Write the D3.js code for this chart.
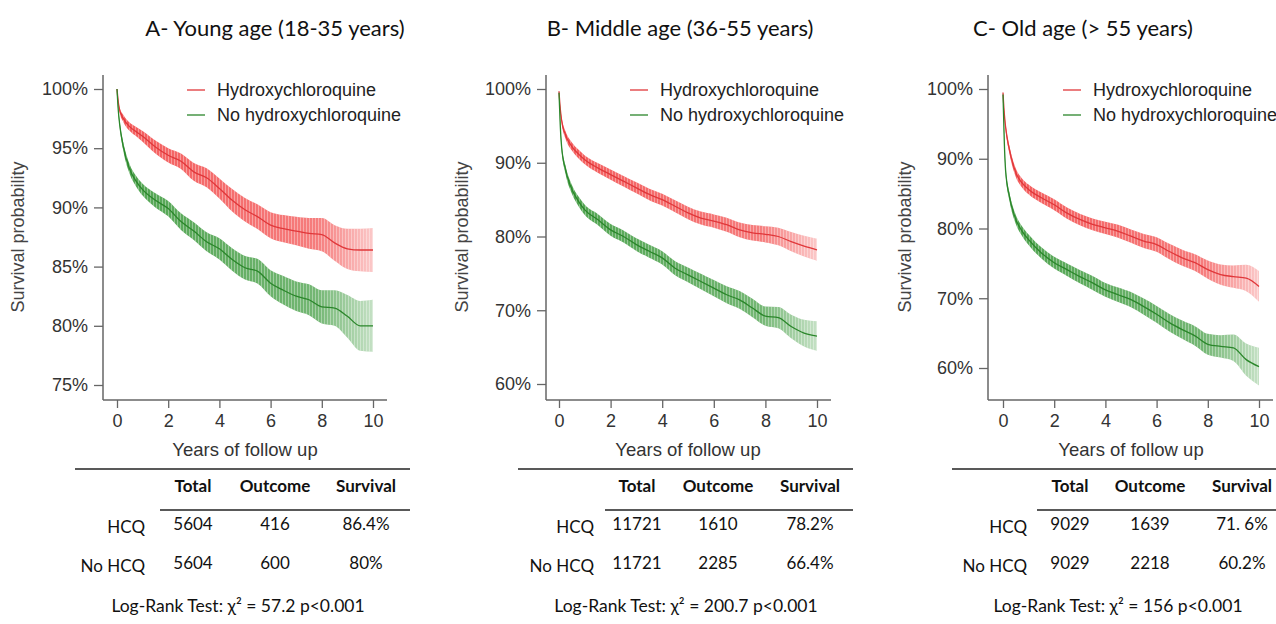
<!DOCTYPE html>
<html>
<head>
<meta charset="utf-8">
<script src="https://cdn.jsdelivr.net/npm/d3@7"></script>
<style>
  body { margin: 0; background: #fff; overflow: hidden; }
  svg { display: block; }
  .tick text { font-family: "Liberation Sans", Arial, sans-serif; }
</style>
</head>
<body>
<svg width="1276" height="624"></svg>
<script>
// follow-up time grid (years)
var years = [0, 0.05, 0.1, 0.25, 0.5, 0.75, 1, 1.5, 2, 2.5, 3, 3.5, 4, 4.5, 5, 5.5, 6, 6.5, 7, 7.5, 8, 8.5, 9, 9.5, 10];

// A - young age, survival (%) and CI half width
var hcqA   = [100, 98.9, 98.25, 97.5, 96.8, 96.4, 96.0, 95.1, 94.4, 93.9, 93.0, 92.5, 91.6, 90.6, 89.8, 89.2, 88.5, 88.2, 88.0, 87.8, 87.7, 87.0, 86.5, 86.4, 86.4];
var noHcqA = [100, 98.2, 97.1, 95.1, 93.2, 92.2, 91.5, 90.6, 89.9, 88.8, 88.0, 87.1, 86.5, 85.6, 84.9, 84.6, 83.6, 83.0, 82.5, 82.2, 81.6, 81.5, 80.8, 80.0, 80.0];
var ciHcqA   = [0, 0.15, 0.2, 0.3, 0.35, 0.4, 0.45, 0.55, 0.6, 0.65, 0.75, 0.8, 0.85, 0.95, 1.0, 1.05, 1.1, 1.15, 1.2, 1.3, 1.4, 1.5, 1.7, 1.8, 1.85];
var ciNoHcqA = [0, 0.2, 0.25, 0.35, 0.4, 0.45, 0.5, 0.6, 0.65, 0.7, 0.75, 0.8, 0.9, 0.95, 1.0, 1.05, 1.1, 1.2, 1.25, 1.3, 1.4, 1.5, 1.8, 2.1, 2.2];

// B - middle age
var hcqB   = [99.7, 97.3, 95.8, 93.8, 92.2, 91.2, 90.4, 89.3, 88.4, 87.5, 86.6, 85.7, 85.0, 84.1, 83.2, 82.5, 82.1, 81.6, 80.9, 80.5, 80.3, 80.0, 79.3, 78.7, 78.2];
var noHcqB = [99.5, 95.0, 92.2, 89.1, 86.4, 84.8, 83.6, 82.3, 80.9, 80.0, 78.9, 78.0, 77.1, 75.7, 74.8, 73.9, 73.0, 72.1, 71.4, 70.3, 69.2, 69.0, 67.8, 66.9, 66.5];
var ciHcqB   = [0, 0.3, 0.4, 0.5, 0.55, 0.58, 0.6, 0.65, 0.7, 0.72, 0.75, 0.78, 0.8, 0.82, 0.85, 0.88, 0.9, 0.95, 1.0, 1.05, 1.1, 1.2, 1.3, 1.4, 1.5];
var ciNoHcqB = [0, 0.35, 0.45, 0.55, 0.6, 0.65, 0.7, 0.75, 0.8, 0.82, 0.85, 0.88, 0.9, 0.95, 1.0, 1.05, 1.1, 1.15, 1.2, 1.25, 1.3, 1.45, 1.6, 1.8, 2.0];

// C - old age
var hcqC   = [99.5, 96.5, 94.6, 91.3, 88.0, 86.5, 85.6, 84.4, 83.4, 82.2, 81.3, 80.6, 80.1, 79.6, 78.9, 78.2, 77.7, 76.7, 75.8, 75.1, 74.1, 73.4, 73.1, 72.9, 71.7];
var noHcqC = [99.2, 92.5, 88.4, 84.6, 81.3, 79.6, 78.4, 76.5, 75.1, 74.1, 73.1, 72.2, 71.2, 70.5, 69.8, 68.8, 67.7, 66.5, 65.5, 64.6, 63.4, 63.1, 62.9, 61.2, 60.2];
var ciHcqC   = [0, 0.35, 0.45, 0.55, 0.6, 0.65, 0.7, 0.75, 0.78, 0.8, 0.82, 0.85, 0.88, 0.92, 0.95, 1.0, 1.05, 1.1, 1.15, 1.2, 1.3, 1.45, 1.6, 1.9, 2.2];
var ciNoHcqC = [0, 0.4, 0.5, 0.6, 0.65, 0.7, 0.75, 0.8, 0.85, 0.9, 0.95, 1.0, 1.0, 1.05, 1.1, 1.15, 1.2, 1.25, 1.3, 1.4, 1.5, 1.6, 1.9, 2.3, 2.7];

var titles = ['A- Young age (18-35 years)', 'B- Middle age (36-55 years)', 'C- Old age (> 55 years)'];
var yTicksA = [75, 80, 85, 90, 95, 100];
var yTicksBC = [60, 70, 80, 90, 100];
var xTicks = [0, 2, 4, 6, 8, 10];
var legendLabels = ['Hydroxychloroquine', 'No hydroxychloroquine'];

var tableHeader = ['Total', 'Outcome', 'Survival'];
var rowLabels = ['HCQ', 'No HCQ'];
var totals   = [[5604, 5604], [11721, 11721], [9029, 9029]];
var outcomes = [[416, 600], [1610, 2285], [1639, 2218]];
var survival = [['86.4%', '80%'], ['78.2%', '66.4%'], ['71. 6%', '60.2%']];
var chiSq = ['57.2', '200.7', '156'];

var colors = { hcq: '#e0373a', noHcq: '#2a862a' };
var bandColors = { hcq: '#f24a4a', noHcq: '#3d9a3d' };

// panel layout
var panels = [
  { series: [hcqA, noHcqA], ci: [ciHcqA, ciNoHcqA], ticks: yTicksA, ymin: 75,
    axisX: 103, x0: 117, x10: 373, yTop: 89, yMinPx: 385, ylabX: 18, legX: 187, titleX: 275, tab: [75, 410, 160, 193, 275, 366, 145, 238] },
  { series: [hcqB, noHcqB], ci: [ciHcqB, ciNoHcqB], ticks: yTicksBC, ymin: 60,
    axisX: 546, x0: 559, x10: 817, yTop: 89, yMinPx: 384, ylabX: 462, legX: 630, titleX: 680, tab: [518, 853, 605, 637, 718, 810, 594, 686] },
  { series: [hcqC, noHcqC], ci: [ciHcqC, ciNoHcqC], ticks: yTicksBC, ymin: 60,
    axisX: 988, x0: 1003, x10: 1259, yTop: 89, yMinPx: 368, ylabX: 905, legX: 1063, titleX: 1083, tab: [952, 1290, 1037, 1070, 1150, 1242, 1027, 1118] }
];

var svg = d3.select('svg');
var defs = svg.append('defs');
var keys = ['hcq', 'noHcq'];

// thin light stripes to give the band its hatched look
var stripes = defs.append('pattern').attr('id', 'stripes')
  .attr('patternUnits', 'userSpaceOnUse').attr('width', 3).attr('height', 10);
stripes.append('rect').attr('x', 0).attr('y', 0).attr('width', 1).attr('height', 10)
  .attr('fill', '#fff').attr('opacity', 0.35);

panels.forEach(function(p, pi){
  var g = svg.append('g');
  var x = d3.scaleLinear().domain([0, 10]).range([p.x0, p.x10]);
  var y = d3.scaleLinear().domain([p.ymin, 100]).range([p.yMinPx, p.yTop]);

  // title
  svg.append('text')
    .attr('x', p.titleX).attr('y', 36)
    .attr('text-anchor', 'middle')
    .style('font-family', 'Lato, "Open Sans", sans-serif')
    .style('font-size', '22px')
    .style('fill', '#111')
    .text(titles[pi]);

  // confidence bands and curves
  keys.forEach(function(k, si){
    var gradId = 'grad' + pi + k;
    var grad = defs.append('linearGradient').attr('id', gradId)
      .attr('gradientUnits', 'userSpaceOnUse')
      .attr('x1', x(0)).attr('x2', x(10)).attr('y1', 0).attr('y2', 0);
    grad.append('stop').attr('offset', '0').attr('stop-color', bandColors[k]).attr('stop-opacity', 0.9);
    grad.append('stop').attr('offset', '0.78').attr('stop-color', bandColors[k]).attr('stop-opacity', 0.72);
    grad.append('stop').attr('offset', '1').attr('stop-color', bandColors[k]).attr('stop-opacity', 0.3);

    var pts = years.map(function(t, i){
      return { t: t, s: p.series[si][i], c: p.ci[si][i] };
    });
    var area = d3.area()
      .x(function(d){ return x(d.t); })
      .y0(function(d){ return y(d.s - d.c); })
      .y1(function(d){ return y(d.s + d.c); })
      .curve(d3.curveMonotoneX);
    g.append('path').datum(pts)
      .attr('d', area)
      .attr('fill', 'url(#' + gradId + ')');
    g.append('path').datum(pts)
      .attr('d', area)
      .attr('fill', 'url(#stripes)');

    var line = d3.line()
      .x(function(d){ return x(d.t); })
      .y(function(d){ return y(d.s); })
      .curve(d3.curveMonotoneX);
    g.append('path').datum(pts)
      .attr('d', line)
      .attr('fill', 'none')
      .attr('stroke', colors[k])
      .attr('stroke-width', 1.3);
  });

  // axes
  var yAxis = d3.axisLeft(y).tickValues(p.ticks).tickSize(9).tickPadding(6)
    .tickFormat(function(d){ return d + '%'; });
  var ya = g.append('g').attr('transform', 'translate(' + p.axisX + ',0)').call(yAxis);
  ya.select('.domain').remove();

  var xAxis = d3.axisBottom(x).tickValues(xTicks).tickSize(8).tickPadding(6);
  var xa = g.append('g').attr('transform', 'translate(0,400)').call(xAxis);
  xa.select('.domain').remove();

  [ya, xa].forEach(function(a){
    a.selectAll('.tick line').attr('stroke', '#666').attr('stroke-width', 1.3);
    a.selectAll('.tick text').style('font-size', '18px').style('fill', '#333');
  });

  g.append('line')
    .attr('x1', p.axisX).attr('x2', p.axisX).attr('y1', 75).attr('y2', 400)
    .attr('stroke', '#666').attr('stroke-width', 1.5);
  g.append('line')
    .attr('x1', p.axisX).attr('x2', x(10) + 14).attr('y1', 400).attr('y2', 400)
    .attr('stroke', '#666').attr('stroke-width', 1.5);

  g.append('text')
    .attr('transform', 'translate(' + p.ylabX + ',237) rotate(-90)')
    .attr('text-anchor', 'middle').attr('dy', '0.35em')
    .style('font-family', '"Liberation Sans", Arial, sans-serif')
    .style('font-size', '18px').style('fill', '#444')
    .text('Survival probability');
  g.append('text')
    .attr('x', (x(0) + x(10)) / 2).attr('y', 456)
    .attr('text-anchor', 'middle')
    .style('font-family', '"Liberation Sans", Arial, sans-serif')
    .style('font-size', '18.5px').style('fill', '#333')
    .text('Years of follow up');

  // legend
  keys.forEach(function(k, si){
    var ly = 90 + si * 25;
    g.append('line')
      .attr('x1', p.legX).attr('x2', p.legX + 18).attr('y1', ly).attr('y2', ly)
      .attr('stroke', colors[k]).attr('stroke-width', 1.3);
    g.append('text')
      .attr('x', p.legX + 30).attr('y', ly).attr('dy', '0.35em')
      .style('font-family', '"Liberation Sans", Arial, sans-serif')
      .style('font-size', '18px').style('fill', '#222')
      .text(legendLabels[si]);
  });

  // table below the chart
  var t = p.tab;
  var tf = 'Lato, "Open Sans", sans-serif';
  g.append('line').attr('x1', t[0]).attr('x2', t[1]).attr('y1', 469).attr('y2', 469)
    .attr('stroke', '#222').attr('stroke-width', 1.3);
  g.append('line').attr('x1', t[2]).attr('x2', t[1]).attr('y1', 510).attr('y2', 510)
    .attr('stroke', '#222').attr('stroke-width', 1.3);
  var colX = [t[3], t[4], t[5]];
  tableHeader.forEach(function(h, ci){
    g.append('text').attr('x', colX[ci]).attr('y', 492)
      .attr('text-anchor', 'middle')
      .style('font-family', tf).style('font-weight', 'bold').style('font-size', '17px').style('fill', '#111')
      .text(h);
  });
  rowLabels.forEach(function(r, ri){
    var ry = 533 + ri * 39;
    g.append('text').attr('x', t[6]).attr('y', ry).attr('text-anchor', 'end')
      .style('font-family', tf).style('font-size', '17px').style('fill', '#111').text(r);
    [totals[pi][ri], outcomes[pi][ri], survival[pi][ri]].forEach(function(v, ci){
      g.append('text').attr('x', colX[ci]).attr('y', ry - 3).attr('text-anchor', 'middle')
        .style('font-family', tf).style('font-size', '17px').style('fill', '#111').text(v);
    });
  });
  g.append('text').attr('x', t[7]).attr('y', 612).attr('text-anchor', 'middle')
    .style('font-family', tf).style('font-size', '17.5px').style('fill', '#111')
    .text('Log-Rank Test: \u03c7\u00b2 = ' + chiSq[pi] + ' p<0.001');
});
</script>
</body>
</html>
